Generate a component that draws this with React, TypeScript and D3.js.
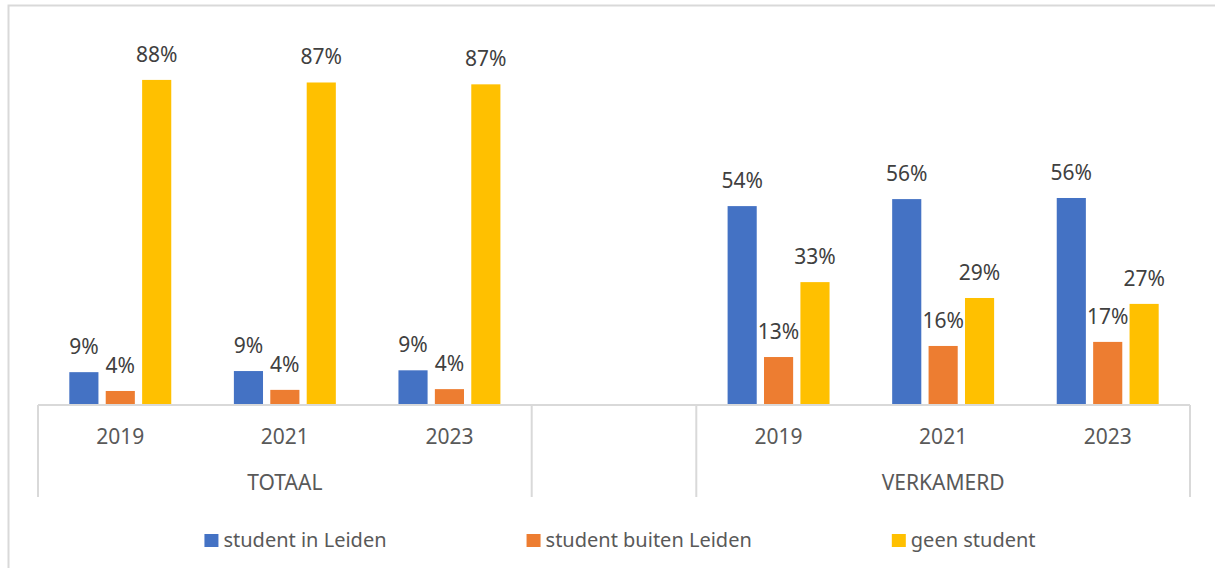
import React, { useEffect, useRef } from 'react';
import * as d3 from 'd3';

// categories
const groups = ['TOTAAL', 'VERKAMERD'];
const years = ['2019', '2021', '2023'];
const seriesNames = ['student in Leiden', 'student buiten Leiden', 'geen student'];
const seriesColors = ['#4472C4', '#ED7D31', '#FFC000'];

// values in %, per group/year (TOTAAL 2019, 2021, 2023, VERKAMERD 2019, 2021, 2023)
const studentInLeiden = [8.9, 9.2, 9.4, 53.9, 55.8, 56.1];
const studentBuitenLeiden = [3.8, 4.1, 4.3, 13.0, 16.0, 17.1];
const geenStudent = [88.1, 87.4, 86.9, 33.3, 29.0, 27.4];

const W = 1215;
const H = 568;

export default function App() {
  const ref = useRef<SVGSVGElement>(null);

  useEffect(() => {
    const svg = d3.select(ref.current);
    svg.selectAll('*').remove();

    const font = '"Noto Sans", sans-serif';
    const grey = '#d9d9d9';
    const margin = { left: 38, right: 25, top: 36, bottom: 163 };

    // chart area border
    svg.append('rect')
      .attr('x', 8.5).attr('y', 5.5)
      .attr('width', W + 20).attr('height', H + 20)
      .attr('fill', 'white').attr('stroke', grey).attr('stroke-width', 2);

    // slots: 3 years per group, blank slot between groups
    const slots: string[] = [];
    groups.forEach((g, gi) => {
      if (gi > 0) slots.push('gap' + gi);
      years.forEach(y => slots.push(g + '|' + y));
    });

    const values = [studentInLeiden, studentBuitenLeiden, geenStudent];
    const rows: { slot: string; series: number; value: number }[] = [];
    groups.forEach((g, gi) => {
      years.forEach((y, yi) => {
        values.forEach((arr, si) => {
          rows.push({ slot: g + '|' + y, series: si, value: arr[gi * years.length + yi] });
        });
      });
    });

    const x0 = d3.scaleBand().domain(slots).range([margin.left, W - margin.right]);
    const x1 = d3.scaleBand<number>()
      .domain(d3.range(seriesNames.length))
      .range([0, x0.bandwidth()])
      .paddingInner(0.2)
      .paddingOuter(0.86);
    const y = d3.scaleLinear().domain([0, 100]).range([H - margin.bottom, margin.top]);
    const base = y(0);

    // bars
    svg.append('g').selectAll('rect')
      .data(rows)
      .enter()
      .append('rect')
      .attr('x', d => (x0(d.slot) as number) + (x1(d.series) as number))
      .attr('y', d => y(d.value))
      .attr('width', x1.bandwidth())
      .attr('height', d => base - y(d.value))
      .attr('fill', d => seriesColors[d.series]);

    // data labels
    svg.append('g').selectAll('text')
      .data(rows)
      .enter()
      .append('text')
      .attr('x', d => (x0(d.slot) as number) + (x1(d.series) as number) + x1.bandwidth() / 2)
      .attr('y', d => y(d.value) - 18)
      .attr('text-anchor', 'middle')
      .style('font-family', font)
      .style('font-size', '21px')
      .attr('fill', '#404040')
      .text(d => Math.round(d.value) + '%');

    // axis line
    svg.append('line')
      .attr('x1', margin.left).attr('x2', W - margin.right)
      .attr('y1', base).attr('y2', base)
      .attr('stroke', grey).attr('stroke-width', 2);

    // group separators
    const sepBottom = base + 92;
    groups.forEach(g => {
      const left = x0(g + '|' + years[0]) as number;
      const right = (x0(g + '|' + years[years.length - 1]) as number) + x0.bandwidth();
      [left, right].forEach(xx => {
        svg.append('line')
          .attr('x1', xx).attr('x2', xx)
          .attr('y1', base).attr('y2', sepBottom)
          .attr('stroke', grey).attr('stroke-width', 2);
      });
      svg.append('text')
        .attr('x', (left + right) / 2)
        .attr('y', base + 85)
        .attr('text-anchor', 'middle')
        .style('font-family', font)
        .style('font-size', '21px')
        .attr('fill', '#595959')
        .text(g);
      years.forEach(yr => {
        svg.append('text')
          .attr('x', (x0(g + '|' + yr) as number) + x0.bandwidth() / 2)
          .attr('y', base + 39)
          .attr('text-anchor', 'middle')
          .style('font-family', font)
          .style('font-size', '21px')
          .attr('fill', '#595959')
          .text(yr);
      });
    });

    // legend
    const legend = svg.append('g');
    const items = seriesNames.map((name, i) => {
      const gItem = legend.append('g');
      gItem.append('rect')
        .attr('x', 0).attr('y', -13)
        .attr('width', 14).attr('height', 13)
        .attr('fill', seriesColors[i]);
      const t = gItem.append('text')
        .attr('x', 19).attr('y', 0)
        .style('font-family', font)
        .style('font-size', '20px')
        .attr('fill', '#595959')
        .text(name);
      const w = 19 + (t.node() as SVGTextElement).getComputedTextLength();
      return { gItem, w };
    });
    const gap = 140;
    const total = d3.sum(items, d => d.w) + gap * (items.length - 1);
    let cx = 620 - total / 2;
    items.forEach(it => {
      it.gItem.attr('transform', `translate(${cx},547)`);
      cx += it.w + gap;
    });
  }, []);

  return (
    <svg
      ref={ref}
      width={W}
      height={H}
      style={{ position: 'absolute', left: 0, top: 0, background: 'white' }}
    />
  );
}
